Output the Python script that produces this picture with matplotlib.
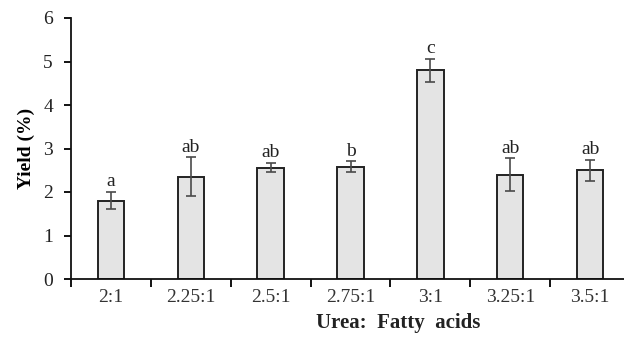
import matplotlib
matplotlib.use("Agg")
import matplotlib.pyplot as plt
import numpy as np

# data
ratios = ["2:1", "2.25:1", "2.5:1", "2.75:1", "3:1", "3.25:1", "3.5:1"]
yields = [1.80, 2.35, 2.56, 2.58, 4.80, 2.40, 2.50]
errors = [0.20, 0.45, 0.11, 0.13, 0.26, 0.38, 0.24]
groups = ["a", "ab", "ab", "b", "c", "ab", "ab"]

plt.rcParams["font.family"] = ["Liberation Serif", "DejaVu Serif"]

fig = plt.figure(figsize=(6.24, 3.38), dpi=100)
# axes run past the right edge of the figure, as in the original crop
ax = fig.add_axes([71 / 624, 59 / 338, 559 / 624, 261 / 338])

x = np.arange(len(ratios))
ax.bar(x, yields, width=0.33, color="#e4e4e4", edgecolor="#222222", linewidth=1.4, zorder=2)
ax.errorbar(x, yields, yerr=errors, fmt="none", ecolor="#4a4a4a", elinewidth=1.2,
            capsize=3.6, capthick=1.2, zorder=3)

for xi, y, e, g in zip(x, yields, errors, groups):
    ax.annotate(g, (xi, y + e), xytext=(0, 4), textcoords="offset points",
                ha="center", va="baseline", fontsize=14, color="#222222")

ax.set_xlim(-0.5, len(ratios) - 0.5)
ax.set_ylim(0, 6)
ax.set_yticks(range(0, 7))

# tick marks between categories, labels under the bars
ax.set_xticks(np.arange(-0.5, len(ratios), 1.0))
ax.set_xticklabels([])
ax.set_xticks(x, minor=True)
ax.set_xticklabels(ratios, minor=True)
ax.tick_params(axis="x", which="major", direction="out", length=6, width=1.3)
ax.tick_params(axis="x", which="minor", length=0, pad=7, labelsize=14, labelcolor="#333333")
ax.tick_params(axis="y", direction="out", length=5, width=1.3, pad=8, labelsize=14, labelcolor="#222222")

for side in ["top", "right"]:
    ax.spines[side].set_visible(False)
for side in ["left", "bottom"]:
    ax.spines[side].set_linewidth(1.3)
    ax.spines[side].set_color("#111111")

ax.set_ylabel("Yield (%)", fontsize=14, fontweight="bold", labelpad=6)
fig.text(398 / 624, 1 - 323 / 338, "Urea:  Fatty  acids", ha="center", va="center",
         fontsize=15, fontweight="bold", color="#222222")

fig.savefig("out.png", dpi=100)
